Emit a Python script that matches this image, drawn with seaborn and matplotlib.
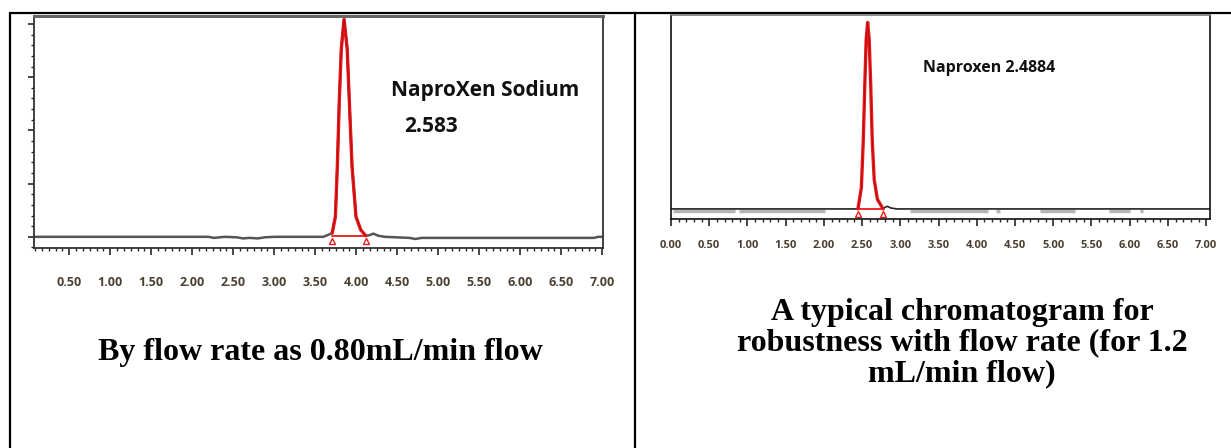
import matplotlib
matplotlib.use('Agg')
import matplotlib.pyplot as plt
from matplotlib.ticker import MultipleLocator, NullFormatter
import pandas as pd
import seaborn as sns

# left chromatogram (0.80 mL/min)
left_time = [0.07, 2.20, 2.26, 2.40, 2.55, 2.62, 2.70, 2.80, 2.88, 3.00, 3.60, 3.707,
             3.746, 3.770, 3.794, 3.818, 3.852, 3.890, 3.915, 3.949, 3.997, 4.055,
             4.117, 4.16, 4.21, 4.27, 4.35, 4.65, 4.72, 4.80, 6.90, 6.95, 7.01]
left_signal = [0, 0, -0.02, 0, -0.01, -0.03, -0.02, -0.03, -0.01, 0, 0, 0.07,
               0.38, 1.33, 2.58, 3.53, 4.09, 3.53, 2.58, 1.33, 0.38, 0.13,
               0.02, 0.03, 0.06, 0.02, 0, -0.02, -0.04, -0.02, -0.02, 0.0, 0.0]
left_peak = (3.707, 4.117)
left_ticks = [0.5, 1.0, 1.5, 2.0, 2.5, 3.0, 3.5, 4.0, 4.5, 5.0, 5.5, 6.0, 6.5, 7.0]

# right chromatogram (1.2 mL/min)
right_time = [0.0, 2.00, 2.30, 2.445, 2.490, 2.515, 2.535, 2.553, 2.572, 2.592,
              2.612, 2.632, 2.658, 2.700, 2.775, 2.80, 2.83, 2.87, 2.95, 7.05]
right_signal = [0, 0, 0, 0.0, 0.40, 1.30, 2.35, 3.20, 3.52, 3.20,
                2.35, 1.30, 0.55, 0.18, 0.0, 0.03, 0.05, 0.02, 0, 0]
right_peak = (2.445, 2.775)
right_ticks = [0.0, 0.5, 1.0, 1.5, 2.0, 2.5, 3.0, 3.5, 4.0, 4.5, 5.0, 5.5, 6.0, 6.5, 7.0]
noise_start = [0.02, 0.89, 3.13, 4.25, 4.82, 5.73, 6.13]
noise_end = [0.84, 2.01, 4.15, 4.30, 5.28, 6.00, 6.18]

left_df = pd.DataFrame({'time': left_time, 'signal': left_signal})
right_df = pd.DataFrame({'time': right_time, 'signal': right_signal})

sns.set_style('white')
W, H = 1231, 448
fig = plt.figure(figsize=(W / 100, H / 100), dpi=100)

def px_axes(x0, y0, x1, y1):
    return fig.add_axes([x0 / W, 1 - y1 / H, (x1 - x0) / W, (y1 - y0) / H])

def px_text(x, y, s, **kw):
    return fig.text(x / W, 1 - y / H, s, **kw)

tick_color = '#4a3f30'
red = '#e8191a'
tick_font = dict(family='Open Sans', fontweight='bold')

# ---- left panel
ax1 = px_axes(34, 16, 603, 248)
pk = left_df[(left_df.time >= left_peak[0]) & (left_df.time <= left_peak[1])]
sns.lineplot(data=left_df, x='time', y='signal', ax=ax1, color='#555555', lw=1.8,
             sort=False, estimator=None)
sns.lineplot(data=pk, x='time', y='signal', ax=ax1, color=red, lw=2.4,
             sort=False, estimator=None)
sns.lineplot(data=pk, x='time', y='signal', ax=ax1, color='#9a0505', lw=0.4,
             sort=False, estimator=None)
ax1.plot(left_peak, [0.01, 0.01], color=red, lw=1.3)
ax1.plot(left_peak, [-0.08, -0.08], ls='none', marker='^', ms=5, mfc='none',
         mec=red, mew=1.0)
ax1.set_xlim(0.07, 7.01)
ax1.set_ylim(-0.21, 4.15)
ax1.set_xticks(left_ticks)
ax1.set_xticklabels([f'{t:.2f}' for t in left_ticks], **tick_font)
ax1.xaxis.set_minor_locator(MultipleLocator(0.5 / 6))
ax1.yaxis.set_major_locator(MultipleLocator(1))
ax1.yaxis.set_minor_locator(MultipleLocator(0.2))
ax1.yaxis.set_major_formatter(NullFormatter())
ax1.tick_params(axis='x', which='major', direction='out', length=5, width=1.2,
                pad=15, labelsize=9, labelcolor=tick_color, bottom=True)
ax1.tick_params(axis='x', which='minor', direction='out', length=2.5, width=1,
                bottom=True)
ax1.tick_params(axis='y', which='major', direction='out', length=4, width=1.2,
                left=True)
ax1.tick_params(axis='y', which='minor', direction='out', length=2.5, width=1,
                left=True)
for s in ax1.spines.values():
    s.set_color('#333333')
    s.set_linewidth(1.3)
ax1.spines['top'].set_color('#666666')
ax1.spines['top'].set_linewidth(2.2)
ax1.set_xlabel('')
ax1.set_ylabel('')

# ---- right panel
ax2 = px_axes(671, 15, 1210, 219)
ax2.hlines([-0.04] * len(noise_start), noise_start, noise_end, color='#b5b5b5', lw=2.5)
pk2 = right_df[(right_df.time >= right_peak[0]) & (right_df.time <= right_peak[1])]
sns.lineplot(data=right_df, x='time', y='signal', ax=ax2, color='#222222', lw=1.2,
             sort=False, estimator=None)
sns.lineplot(data=pk2, x='time', y='signal', ax=ax2, color=red, lw=2.4,
             sort=False, estimator=None)
sns.lineplot(data=pk2, x='time', y='signal', ax=ax2, color='#9a0505', lw=0.4,
             sort=False, estimator=None)
ax2.plot(right_peak, [0.0, 0.0], color=red, lw=1.3)
ax2.plot(right_peak, [-0.1, -0.1], ls='none', marker='^', ms=5, mfc='none',
         mec=red, mew=1.0)
ax2.set_xlim(0.0, 7.05)
ax2.set_ylim(-0.19, 3.66)
ax2.set_xticks(right_ticks)
ax2.set_xticklabels([f'{t:.2f}' for t in right_ticks], **tick_font)
ax2.xaxis.set_minor_locator(MultipleLocator(0.1))
ax2.set_yticks([])
ax2.tick_params(axis='x', which='major', direction='out', length=5, width=1.2,
                pad=10, labelsize=8, labelcolor=tick_color, bottom=True)
ax2.tick_params(axis='x', which='minor', direction='out', length=2.5, width=1,
                bottom=True)
for s in ax2.spines.values():
    s.set_color('#111111')
    s.set_linewidth(1.2)
ax2.spines['top'].set_color('#777777')
ax2.set_xlabel('')
ax2.set_ylabel('')

# ---- peak annotations
ann = dict(family='Open Sans', fontweight='bold', color='#111111', va='center', ha='left')
px_text(391, 90, 'NaproXen Sodium', fontsize=15, **ann)
px_text(404, 127, '2.583', fontsize=15, **ann)
px_text(923, 68, 'Naproxen 2.4884', fontsize=11.5, **ann)

# ---- table borders and captions
border = fig.add_axes([0, 0, 1, 1], zorder=-1)
border.set_xlim(0, W)
border.set_ylim(H, 0)
border.axis('off')
border.plot([10, W], [13, 13], color='black', lw=1.6)
border.plot([10, 10], [13, H], color='black', lw=1.6)
border.plot([635, 635], [13, H], color='black', lw=1.6)

cap = dict(family='Liberation Serif', fontweight='bold', fontsize=23,
           ha='center', va='center', color='black')
px_text(320, 352, 'By flow rate as 0.80mL/min flow', **cap)
px_text(962, 343,
        'A typical chromatogram for\nrobustness with flow rate (for 1.2\nmL/min flow)',
        linespacing=1.06, **cap)

fig.savefig('out.png', dpi=100)
